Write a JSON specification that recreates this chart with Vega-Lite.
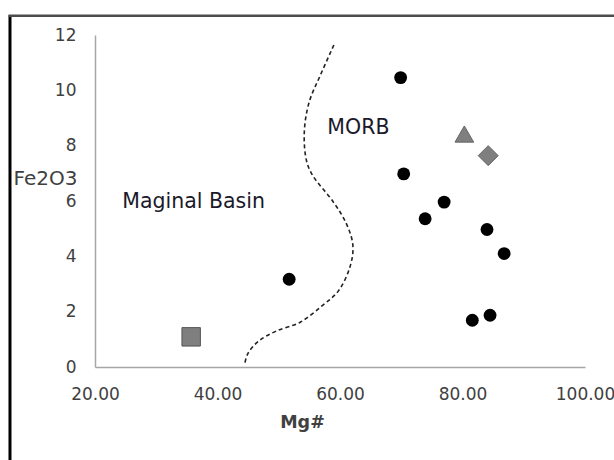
{
  "$schema": "https://vega.github.io/schema/vega-lite/v6.json",
  "width": 490,
  "height": 332,
  "autosize": "none",
  "padding": {"left": 95, "top": 35, "right": 29, "bottom": 93},
  "background": "white",
  "config": {"view": {"stroke": null}, "font": "DejaVu Sans"},
  "datasets": {
    "pts": [
      {"mg": 69.9, "fe": 10.46, "type": "sample"},
      {"mg": 70.4, "fe": 6.98, "type": "sample"},
      {"mg": 77.0, "fe": 5.96, "type": "sample"},
      {"mg": 73.9, "fe": 5.36, "type": "sample"},
      {"mg": 84.0, "fe": 4.97, "type": "sample"},
      {"mg": 86.8, "fe": 4.10, "type": "sample"},
      {"mg": 81.6, "fe": 1.69, "type": "sample"},
      {"mg": 84.5, "fe": 1.87, "type": "sample"},
      {"mg": 51.7, "fe": 3.17, "type": "sample"},
      {"mg": 80.3, "fe": 8.42, "type": "MORB ref"},
      {"mg": 84.2, "fe": 7.64, "type": "ref2"},
      {"mg": 35.7, "fe": 1.09, "type": "Marginal ref"}
    ],
    "curve": [
      {"i": 1, "mg": 59.0, "fe": 11.64},
      {"i": 2, "mg": 56.8, "fe": 10.55},
      {"i": 3, "mg": 55.0, "fe": 9.6},
      {"i": 4, "mg": 54.2, "fe": 8.6},
      {"i": 5, "mg": 54.4, "fe": 7.6},
      {"i": 6, "mg": 55.6, "fe": 6.9},
      {"i": 7, "mg": 58.8, "fe": 6.0},
      {"i": 8, "mg": 61.0, "fe": 5.2},
      {"i": 9, "mg": 62.1, "fe": 4.4},
      {"i": 10, "mg": 61.6, "fe": 3.6},
      {"i": 11, "mg": 59.8, "fe": 2.77},
      {"i": 12, "mg": 57.0, "fe": 2.2},
      {"i": 13, "mg": 53.5, "fe": 1.62},
      {"i": 14, "mg": 49.6, "fe": 1.3},
      {"i": 15, "mg": 46.8, "fe": 0.95},
      {"i": 16, "mg": 45.0, "fe": 0.5},
      {"i": 17, "mg": 44.4, "fe": 0.05}
    ],
    "labels": [
      {"mg": 63.0, "fe": 8.65, "label": "MORB"},
      {"mg": 36.1, "fe": 5.95, "label": "Maginal Basin"}
    ],
    "one": [{}]
  },
  "layer": [
    {
      "data": {"name": "curve"},
      "mark": {"type": "line", "interpolate": "cardinal", "color": "#222222", "strokeWidth": 1.6, "strokeDash": [4, 3]},
      "encoding": {
        "x": {"field": "mg", "type": "quantitative", "scale": {"domain": [20, 100], "nice": false, "zero": false},
          "axis": {"values": [20, 40, 60, 80, 100], "format": ".2f", "ticks": false, "grid": false,
            "labelFlush": false, "labelOverlap": false, "labelBound": false,
            "domainColor": "#a6a6a6", "domainWidth": 1.5, "labelFontSize": 17, "labelColor": "#404040",
            "labelPadding": 19, "title": "Mg#", "titleFontSize": 17.5, "titleFontWeight": "bold", "titleColor": "#404040",
            "titleX": 207, "titleY": 55, "titleBaseline": "middle", "titleAnchor": "start", "titleAlign": "center"}},
        "y": {"field": "fe", "type": "quantitative", "scale": {"domain": [0, 12], "nice": false, "zero": false},
          "axis": {"values": [0, 2, 4, 6, 8, 10, 12], "ticks": false, "grid": false,
            "labelFlush": false, "labelOverlap": false, "labelBound": false,
            "domainColor": "#a6a6a6", "domainWidth": 1.5, "labelFontSize": 17, "labelColor": "#404040",
            "labelPadding": 19, "title": "Fe2O3", "titleFontSize": 20, "titleFontWeight": "normal", "titleColor": "#404040",
            "titleAngle": 0, "titleX": -82, "titleY": 143, "titleAlign": "left", "titleBaseline": "middle"}},
        "order": {"field": "i", "type": "quantitative"}
      }
    },
    {
      "data": {"name": "pts"},
      "transform": [{"filter": "datum.type === 'sample'"}],
      "mark": {"type": "point", "shape": "circle", "filled": true, "opacity": 1, "color": "#000000", "size": 165},
      "encoding": {
        "x": {"field": "mg", "type": "quantitative", "scale": {"domain": [20, 100], "nice": false, "zero": false}},
        "y": {"field": "fe", "type": "quantitative", "scale": {"domain": [0, 12], "nice": false, "zero": false}}
      }
    },
    {
      "data": {"name": "pts"},
      "transform": [{"filter": "datum.type === 'MORB ref'"}],
      "mark": {"type": "point", "shape": "triangle-up", "filled": true, "opacity": 1, "fill": "#7f7f7f", "stroke": "#666666", "strokeWidth": 1, "size": 350},
      "encoding": {
        "x": {"field": "mg", "type": "quantitative", "scale": {"domain": [20, 100], "nice": false, "zero": false}},
        "y": {"field": "fe", "type": "quantitative", "scale": {"domain": [0, 12], "nice": false, "zero": false}}
      }
    },
    {
      "data": {"name": "pts"},
      "transform": [{"filter": "datum.type === 'ref2'"}],
      "mark": {"type": "point", "shape": "diamond", "filled": true, "opacity": 1, "fill": "#7f7f7f", "stroke": "#666666", "strokeWidth": 1, "size": 400},
      "encoding": {
        "x": {"field": "mg", "type": "quantitative", "scale": {"domain": [20, 100], "nice": false, "zero": false}},
        "y": {"field": "fe", "type": "quantitative", "scale": {"domain": [0, 12], "nice": false, "zero": false}}
      }
    },
    {
      "data": {"name": "pts"},
      "transform": [{"filter": "datum.type === 'Marginal ref'"}],
      "mark": {"type": "point", "shape": "square", "filled": true, "opacity": 1, "fill": "#7f7f7f", "stroke": "#555555", "strokeWidth": 1, "size": 340},
      "encoding": {
        "x": {"field": "mg", "type": "quantitative", "scale": {"domain": [20, 100], "nice": false, "zero": false}},
        "y": {"field": "fe", "type": "quantitative", "scale": {"domain": [0, 12], "nice": false, "zero": false}}
      }
    },
    {
      "data": {"name": "labels"},
      "mark": {"type": "text", "fontSize": 20.5, "color": "#1a1a2a", "align": "center", "baseline": "middle"},
      "encoding": {
        "x": {"field": "mg", "type": "quantitative", "scale": {"domain": [20, 100], "nice": false, "zero": false}},
        "y": {"field": "fe", "type": "quantitative", "scale": {"domain": [0, 12], "nice": false, "zero": false}},
        "text": {"field": "label"}
      }
    },
    {
      "data": {"name": "one"},
      "mark": {"type": "rule", "color": "#000000", "strokeWidth": 3},
      "encoding": {
        "x": {"datum": 6.12, "type": "quantitative", "scale": {"domain": [20, 100], "nice": false, "zero": false}},
        "y": {"datum": 12.72, "type": "quantitative", "scale": {"domain": [0, 12], "nice": false, "zero": false}},
        "y2": {"datum": -3.5}
      }
    },
    {
      "data": {"name": "one"},
      "mark": {"type": "rule", "color": "#4d4d4d", "strokeWidth": 2.5},
      "encoding": {
        "x": {"datum": 5.9, "type": "quantitative", "scale": {"domain": [20, 100], "nice": false, "zero": false}},
        "x2": {"datum": 105},
        "y": {"datum": 12.7, "type": "quantitative", "scale": {"domain": [0, 12], "nice": false, "zero": false}}
      }
    }
  ]
}
